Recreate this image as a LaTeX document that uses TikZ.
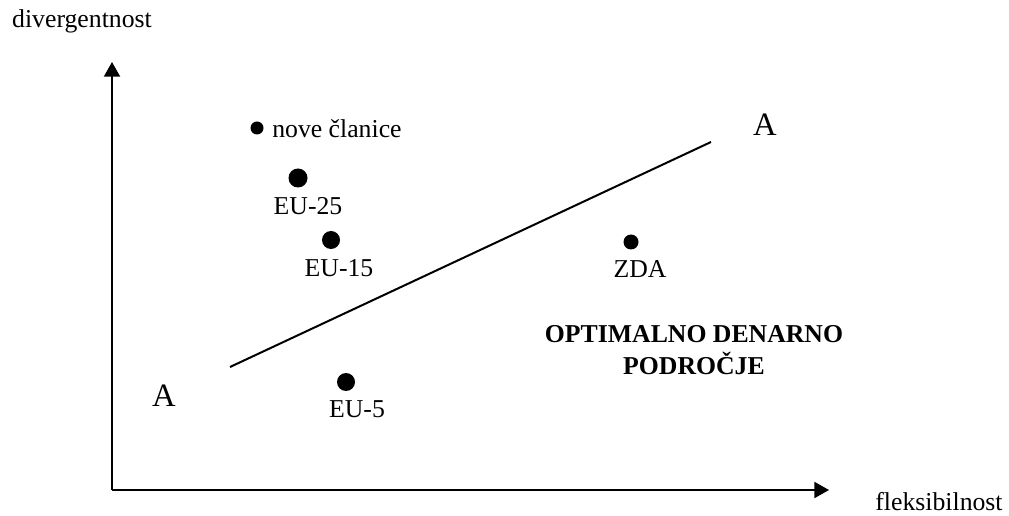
\documentclass[tikz,border=0pt]{standalone}
\usepackage{fontspec}
\setmainfont{Liberation Serif}
\usetikzlibrary{arrows.meta}
\begin{document}
\begin{tikzpicture}[x=0.75pt,y=-0.75pt,
  lbl/.style={font=\fontsize{19.3}{23}\selectfont, inner sep=0pt},
  albl/.style={font=\fontsize{24.5}{28}\selectfont, inner sep=0pt},
  blbl/.style={font=\fontsize{19.3}{24}\selectfont\bfseries, inner sep=0pt, align=center},
  axis/.style={line width=1.5pt, -{Triangle[length=11pt,width=12pt]}},
  dotp/.style={circle, fill=black, inner sep=0pt}]
\useasboundingbox (0,0) rectangle (1009,516);
\coordinate (O) at (112,490);
\coordinate (Ytip) at (112,62);
\coordinate (Xtip) at (829,490);
\draw[axis] (O) -- (Ytip);
\draw[axis] (O) -- (Xtip);
\node[lbl] (ylab) at (82,21) {divergentnost};
\node[lbl] (xlab) at (939,502) {fleksibilnost};
\coordinate (A1) at (230,367);
\coordinate (A2) at (711,142);
\draw[line width=1.5pt] (A1) -- (A2);
\node[albl] (Aleft) at (164,396) {A};
\node[albl] (Aright) at (765,125) {A};
\node[dotp, minimum size=13*0.75pt] (dnc) at (257,128) {};
\node[lbl, anchor=west] (tnc) at (272,129) {nove članice};
\node[dotp, minimum size=19*0.75pt] (d25) at (298,178) {};
\node[lbl] (t25) at (308,206) {EU-25};
\node[dotp, minimum size=18*0.75pt] (d15) at (331,240) {};
\node[lbl] (t15) at (339,268) {EU-15};
\node[dotp, minimum size=15*0.75pt] (dzda) at (631,242) {};
\node[lbl] (tzda) at (640,269) {ZDA};
\node[dotp, minimum size=18*0.75pt] (d5) at (346,382) {};
\node[lbl] (t5) at (357,409) {EU-5};
\node[blbl] (opt) at (694,350) {OPTIMALNO DENARNO\\PODROČJE};
\end{tikzpicture}
\end{document}
